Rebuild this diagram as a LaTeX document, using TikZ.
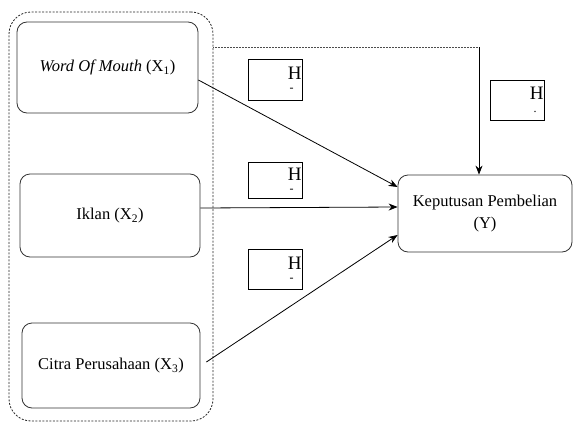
\documentclass[tikz,border=0pt]{standalone}
\usepackage{fontspec}
\setmainfont{Liberation Serif}
\usepackage{tikz}
\usetikzlibrary{arrows,arrows.meta}
\tikzset{
  varnode/.style = {draw=black!80, line width=0.8pt, rounded corners=10pt,
    align=center, inner sep=0pt, font=\fontsize{16.5}{22}\selectfont},% kotak variabel
  grpnode/.style = {draw=black!85, line width=0.8pt, dash pattern=on 2pt off 1.5pt,
    rounded corners=22pt, inner sep=0pt},% kelompok X
  hypnode/.style = {draw=black, line width=0.8pt, rectangle, inner sep=0pt,
    minimum width=54pt, text width=53pt, align=right,
    font=\fontsize{19}{19}\selectfont}% kotak hipotesis
}

\begin{document}
\begin{tikzpicture}[->,>={Stealth[length=9pt,width=7pt]},line width=0.8pt,x=1pt,y=-1pt]
    \useasboundingbox (0,0) rectangle (573,423);
    \node [grpnode, minimum width=204pt, minimum height=409pt] (grp) at (111,216.5) {};
    \node [varnode, minimum width=181pt, minimum height=91pt] (x1) at (107.5,67.5)
        {\textit{Word Of Mouth} (X\textsubscript{1})};
    \node [varnode, minimum width=180pt, minimum height=83pt] (x2) at (110,215.5)
        {Iklan (X\textsubscript{2})};
    \node [varnode, minimum width=178pt, minimum height=85pt] (x3) at (111,365.5)
        {Citra Perusahaan (X\textsubscript{3})};
    \node [varnode, minimum width=174pt, minimum height=77pt] (y) at (485,213.5)
        {Keputusan Pembelian\\(Y)};
    \node [hypnode, minimum height=41pt] (h1) at (275,79.5)
        {H\\[-7pt]{\fontsize{12}{12}\selectfont -}\hspace*{8pt}\mbox{}};
    \node [hypnode, minimum height=36pt] (h2) at (275,180.5)
        {H\\[-7pt]{\fontsize{12}{12}\selectfont -}\hspace*{8pt}\mbox{}};
    \node [hypnode, minimum height=40pt] (h3) at (275,269)
        {H\\[-7pt]{\fontsize{12}{12}\selectfont -}\hspace*{8pt}\mbox{}};
    \node [hypnode, minimum height=40pt] (h4) at (517,100)
        {H\\[-6pt]{\fontsize{12}{12}\selectfont .}\hspace*{7pt}\mbox{}};
    \coordinate (top) at (479,47);
    \draw [-, densely dotted, line width=0.5pt, black!70] (grp.east |- top) -- (top);
    \draw (top) -- (y.north -| top);
    \draw (x1.east |- 0,80) -- (y.west |- 0,187);
    \draw (x2.east |- 0,208) -- (y.west |- 0,207);
    \draw ([xshift=6pt]x3.east |- 0,362) -- (y.west |- 0,235);
\end{tikzpicture}
\end{document}
